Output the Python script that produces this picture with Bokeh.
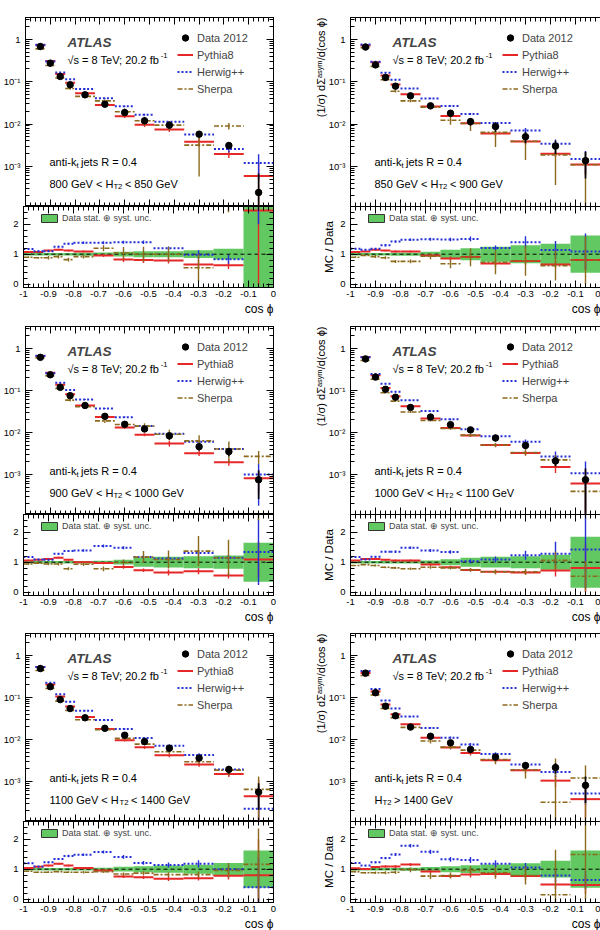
import math
from bokeh.plotting import figure
from bokeh.models import (Range1d, LinearAxis, LogAxis, FixedTicker, CustomJSTickFormatter,
                          Label, Legend, LegendItem, Span, Title)
from bokeh.layouts import column, row
from bokeh.embed import file_html
from bokeh.resources import INLINE

NAN = float("nan")
FONT = "Liberation Sans"

# ---------------- binning / ticks ----------------
BIN_EDGES = [-1.0, -0.96, -0.92, -0.88, -0.84, -0.80, -0.72, -0.64, -0.56, -0.48, -0.36, -0.24, -0.12, 0.0]
X_TICKS = [-1.0, -0.9, -0.8, -0.7, -0.6, -0.5, -0.4, -0.3, -0.2, -0.1, 0.0]
X_MINOR = [round(-1.0 + 0.02 * i, 2) for i in range(51)]
Y_LOG_TICKS = [1e-3, 1e-2, 1e-1, 1.0]
Y_LOG_MINOR = [k * 10.0 ** e for e in range(-4, 1) for k in range(2, 10)]
RATIO_TICKS = [0, 1, 2]
RATIO_MINOR = [round(0.2 * i, 1) for i in range(0, 14)]

# ---------------- data (cos phi bins, 13 bins) ----------------
# Panel 1 : 800 < HT2 < 850 GeV
P1_DATA = [NAN, 0.68, 0.275, 0.133, 0.0845, 0.049, 0.0294, 0.0187, 0.0119, 0.0094, 0.00575, 0.0031, 0.00024]
P1_BAND = [0.04, 0.04, 0.04, 0.04, 0.04, 0.05, 0.06, 0.08, 0.10, 0.10, 0.13, 0.18, 1.8]
P1_PYTHIA = [1.07, 1.07, 1.12, 1.15, 1.12, 1.09, 0.96, 0.82, 0.81, 0.79, 0.66, 0.63, 2.46]
P1_HERWIG = [1.17, 1.10, 1.10, 1.25, 1.35, 1.38, 1.38, 1.40, 1.40, 1.20, 0.98, 0.83, 5.0]
P1_SHERPA = [0.90, 0.88, 0.88, 0.92, 0.82, 0.92, 1.20, 1.04, 1.00, 1.00, 0.55, 2.9, NAN]
P1_PYTHIA_ERR = [0.02, 0.02, 0.03, 0.03, 0.03, 0.03, 0.05, 0.08, 0.10, 0.10, 0.15, 0.12, 2.5]
P1_HERWIG_ERR = [0.02, 0.02, 0.03, 0.03, 0.03, 0.04, 0.05, 0.05, 0.06, 0.06, 0.15, 0.15, 3.0]
P1_SHERPA_ERR = [0.03, 0.03, 0.06, 0.06, 0.06, 0.06, 0.10, 0.20, 0.25, 0.25, 0.45, 0.5, NAN]
P1_HT = ("800 GeV < H", "T2", " < 850 GeV")

# Panel 2 : 850 < HT2 < 900 GeV
P2_DATA = [NAN, 0.66, 0.25, 0.126, 0.0785, 0.0464, 0.0269, 0.018, 0.0114, 0.0087, 0.005, 0.003, 0.00136]
P2_BAND = [0.04, 0.04, 0.04, 0.04, 0.05, 0.05, 0.08, 0.15, 0.20, 0.25, 0.30, 0.35, 0.62]
P2_PYTHIA = [1.07, 1.09, 1.15, 1.12, 1.09, 1.09, 0.96, 0.86, 0.91, 0.69, 0.77, 0.66, 0.81]
P2_HERWIG = [1.18, 1.15, 1.18, 1.30, 1.42, 1.48, 1.50, 1.49, 1.51, 1.21, 1.40, 1.14, 1.09]
P2_SHERPA = [0.90, 0.96, 0.92, 0.88, 0.76, 0.76, 0.93, 0.68, 0.90, 0.73, 0.78, 0.62, 0.80]
P2_PYTHIA_ERR = [0.02, 0.02, 0.03, 0.03, 0.03, 0.03, 0.05, 0.06, 0.08, 0.10, 0.12, 0.10, 0.35]
P2_HERWIG_ERR = [0.02, 0.02, 0.03, 0.04, 0.04, 0.04, 0.05, 0.06, 0.08, 0.08, 0.20, 0.30, 0.60]
P2_SHERPA_ERR = [0.03, 0.03, 0.05, 0.05, 0.05, 0.06, 0.10, 0.15, 0.30, 0.40, 0.50, 0.50, 0.80]
P2_HT = ("850 GeV < H", "T2", " < 900 GeV")

# Panel 3 : 900 < HT2 < 1000 GeV
P3_DATA = [NAN, 0.61, 0.235, 0.118, 0.075, 0.0438, 0.0241, 0.0156, 0.0121, 0.0083, 0.0046, 0.0035, 0.00075]
P3_BAND = [0.04, 0.04, 0.04, 0.04, 0.04, 0.04, 0.05, 0.08, 0.15, 0.18, 0.20, 0.22, 0.65]
P3_PYTHIA = [1.06, 1.08, 1.11, 1.15, 1.08, 1.00, 0.97, 0.84, 0.73, 0.66, 0.70, 0.56, 1.09]
P3_HERWIG = [1.17, 1.09, 1.08, 1.28, 1.37, 1.39, 1.54, 1.48, 1.17, 1.12, 1.31, 1.15, 1.34]
P3_SHERPA = [0.94, 0.97, 0.94, 0.94, 0.78, 0.93, 0.78, 0.99, 1.17, 1.09, 1.37, 1.15, 3.6]
P3_PYTHIA_ERR = [0.02, 0.02, 0.03, 0.03, 0.03, 0.03, 0.04, 0.06, 0.06, 0.10, 0.10, 0.10, 0.60]
P3_HERWIG_ERR = [0.02, 0.02, 0.03, 0.03, 0.03, 0.04, 0.05, 0.05, 0.06, 0.08, 0.10, 0.10, 1.10]
P3_SHERPA_ERR = [0.03, 0.03, 0.04, 0.05, 0.05, 0.06, 0.08, 0.10, 0.20, 0.30, 0.50, 0.60, 1.20]
P3_HT = ("900 GeV < H", "T2", " < 1000 GeV")

# Panel 4 : 1000 < HT2 < 1100 GeV
P4_DATA = [NAN, 0.56, 0.207, 0.106, 0.0687, 0.0393, 0.0232, 0.0153, 0.0115, 0.0074, 0.0049, 0.0021, 0.00075]
P4_BAND = [0.04, 0.04, 0.04, 0.04, 0.04, 0.04, 0.06, 0.10, 0.15, 0.18, 0.20, 0.25, 0.85]
P4_PYTHIA = [1.06, 1.11, 1.11, 1.08, 1.06, 1.06, 0.92, 0.83, 0.74, 0.68, 0.66, 0.72, 0.81]
P4_HERWIG = [1.17, 1.09, 1.18, 1.35, 1.35, 1.48, 1.39, 1.34, 1.03, 1.09, 1.23, 1.28, 1.42]
P4_SHERPA = [0.89, 0.92, 0.89, 0.83, 0.81, 0.78, 0.83, 0.81, 0.75, 0.68, 0.68, 1.06, 0.53]
P4_PYTHIA_ERR = [0.02, 0.02, 0.03, 0.03, 0.03, 0.03, 0.04, 0.05, 0.05, 0.06, 0.08, 0.20, 0.80]
P4_HERWIG_ERR = [0.02, 0.02, 0.03, 0.03, 0.04, 0.04, 0.05, 0.06, 0.07, 0.10, 0.15, 0.40, 1.30]
P4_SHERPA_ERR = [0.02, 0.02, 0.03, 0.03, 0.04, 0.04, 0.05, 0.05, 0.06, 0.08, 0.10, 0.30, 0.50]
P4_HT = ("1000 GeV < H", "T2", " < 1100 GeV")

# Panel 5 : 1100 < HT2 < 1400 GeV
P5_DATA = [NAN, 0.485, 0.18, 0.0885, 0.0543, 0.0327, 0.0184, 0.0126, 0.0089, 0.0062, 0.0036, 0.00194, 0.00056]
P5_BAND = [0.04, 0.04, 0.04, 0.04, 0.04, 0.04, 0.05, 0.08, 0.10, 0.12, 0.15, 0.21, 0.62]
P5_PYTHIA = [1.04, 1.08, 1.12, 1.18, 1.12, 1.04, 0.96, 0.76, 0.73, 0.68, 0.70, 0.78, 0.80]
P5_HERWIG = [1.20, 1.09, 1.23, 1.34, 1.44, 1.48, 1.57, 1.41, 1.21, 1.14, 1.18, 1.00, 0.40]
P5_SHERPA = [0.93, 0.90, 0.90, 0.92, 0.90, 0.90, 0.92, 0.84, 0.87, 0.82, 0.82, 0.96, 1.16]
P5_PYTHIA_ERR = [0.02, 0.02, 0.03, 0.03, 0.03, 0.03, 0.04, 0.05, 0.06, 0.07, 0.08, 0.12, 1.20]
P5_HERWIG_ERR = [0.02, 0.02, 0.03, 0.03, 0.04, 0.04, 0.05, 0.06, 0.06, 0.08, 0.12, 0.10, 1.00]
P5_SHERPA_ERR = [0.02, 0.02, 0.03, 0.03, 0.03, 0.04, 0.05, 0.05, 0.06, 0.08, 0.10, 0.25, 1.20]
P5_HT = ("1100 GeV < H", "T2", " < 1400 GeV")

# Panel 6 : HT2 > 1400 GeV
P6_DATA = [NAN, 0.377, 0.129, 0.0617, 0.0366, 0.0197, 0.0119, 0.0083, 0.0058, 0.0038, 0.0024, 0.00214, 0.00081]
P6_BAND = [0.04, 0.04, 0.04, 0.04, 0.04, 0.05, 0.07, 0.10, 0.13, 0.16, 0.20, 0.28, 0.62]
P6_PYTHIA = [1.03, 1.01, 1.07, 1.09, 1.09, 1.16, 0.92, 0.77, 0.82, 0.84, 0.77, 0.49, 0.47]
P6_HERWIG = [1.21, 1.12, 1.23, 1.37, 1.49, 1.78, 1.58, 1.33, 1.31, 1.18, 1.06, 0.79, 0.64]
P6_SHERPA = [0.92, 0.88, 0.88, 0.88, 0.90, 0.98, 0.77, 0.79, 0.96, 0.88, 0.79, 0.15, 1.49]
P6_PYTHIA_ERR = [0.02, 0.02, 0.03, 0.04, 0.05, 0.05, 0.05, 0.06, 0.10, 0.10, 0.12, 0.15, 0.30]
P6_HERWIG_ERR = [0.02, 0.02, 0.03, 0.04, 0.05, 0.06, 0.07, 0.08, 0.10, 0.12, 0.15, 0.20, 0.30]
P6_SHERPA_ERR = [0.03, 0.03, 0.04, 0.05, 0.06, 0.08, 0.10, 0.10, 0.15, 0.20, 0.30, 1.50, 1.50]
P6_HT = ("H", "T2", " > 1400 GeV")

# ---------------- style ----------------
PY_COLOR = "#e62828"
HW_COLOR = "#2430d6"
SH_COLOR = "#8c6a1c"
GREEN = "#62c862"

TOP_H = [204, 194, 193]
TOP_BT = [15, 6, 5]
RAT_H = [114, 114, 109]
RAT_BB = [33, 33, 28]
RAT_FRAME = 81

# Arial / Liberation Sans advance widths (1/1000 em)
W = {' ': 278, '.': 278, ';': 278, '<': 584, '>': 584, '=': 584, '-': 333, 'G': 778, 'H': 722,
     'T': 611, 'V': 667, 'a': 556, 'b': 556, 'e': 556, 'f': 278, 'i': 222, 'k': 500, 'n': 556,
     's': 500, 't': 278, '\u221a': 549}


def text_width(s, size):
    return sum(W.get(c, 556) for c in s) * size / 1000.0


def rich(p, x, y, parts, size):
    for txt, kind in parts:
        fs = size if kind == "n" else size * 0.7
        dy = 0.0 if kind == "n" else (-0.28 * size if kind == "sub" else 0.42 * size)
        p.add_layout(Label(x=x, y=y + dy, x_units="screen", y_units="screen", text=txt,
                           text_font=FONT, text_font_size=f"{fs:.1f}px", text_color="black",
                           text_baseline="alphabetic", text_align="left"))
        x += text_width(txt, fs) + (0.0 if kind == "n" else 2.5)


BLANK = CustomJSTickFormatter(code="return '';")
X_FMT = CustomJSTickFormatter(code="""
const v = Math.round(tick * 10) / 10;
if (Math.abs(v) < 1e-9) return '0';
if (Math.abs(v + 1) < 1e-9) return '-1';
return v.toFixed(1);
""")
LOG_FMT = CustomJSTickFormatter(code="""
const e = Math.round(Math.log10(tick));
if (e === 0) return '1';
const sup = {'-': '\\u207b', '0': '\\u2070', '1': '\\u00b9', '2': '\\u00b2', '3': '\\u00b3', '4': '\\u2074'};
return '10' + String(e).split('').map(c => sup[c]).join('');
""")


def style_axis(ax, labels, standoff=5, size="9.5px"):
    ax.axis_line_color = "black"
    ax.axis_line_width = 1
    ax.major_tick_line_color = "black"
    ax.minor_tick_line_color = "black"
    ax.major_tick_in = 7
    ax.major_tick_out = 0
    ax.minor_tick_in = 4
    ax.minor_tick_out = 0
    if labels:
        ax.major_label_text_font = FONT
        ax.major_label_text_font_size = size
        ax.major_label_text_color = "black"
        ax.major_label_standoff = standoff
    else:
        ax.formatter = BLANK
        ax.major_label_text_font_size = "1px"
        ax.major_label_standoff = 0


def side_title(text, align, size, standoff=0):
    return Title(text=text, align=align, text_font=FONT, text_font_size=size,
                 text_font_style="normal", text_color="black", standoff=standoff)


CENTERS = [(a + b) / 2 for a, b in zip(BIN_EDGES[:-1], BIN_EDGES[1:])]


def mc_list(py, hw, sh, pye, hwe, she):
    return [("Pythia8", py, pye, PY_COLOR, "solid", 2.0),
            ("Herwig++", hw, hwe, HW_COLOR, "2 2", 2.0),
            ("Sherpa", sh, she, SH_COLOR, "5 2 2 2", 1.6)]


def top_figure(side, r, data, band, mcs, ht):
    left = side == 0
    F = TOP_H[r] - TOP_BT[r]
    p = figure(width=300, height=TOP_H[r], x_range=Range1d(-1, 0), y_range=Range1d(1.12e-4, 3.3),
               y_axis_type="log", output_backend="svg", toolbar_location=None,
               min_border_left=23 if left else 50, min_border_right=27 if left else 0,
               min_border_top=TOP_BT[r], min_border_bottom=0)
    p.grid.visible = False
    p.outline_line_color = "black" if left else None
    xt = FixedTicker(ticks=X_TICKS, minor_ticks=X_MINOR)
    yt = FixedTicker(ticks=Y_LOG_TICKS, minor_ticks=Y_LOG_MINOR)
    p.xaxis.ticker = xt
    style_axis(p.xaxis[0], False)
    p.yaxis.ticker = yt
    p.yaxis.formatter = LOG_FMT
    style_axis(p.yaxis[0], True)
    ax_top = LinearAxis(ticker=xt)
    style_axis(ax_top, False)
    p.add_layout(ax_top, "above")
    if left:
        ax_r = LogAxis(ticker=yt)
        style_axis(ax_r, False)
        p.add_layout(ax_r, "right")
    else:
        p.add_layout(side_title("(1/\u03c3) d\u03a3\u1d43\u02e2\u02b8\u1d50/d(cos \u03d5)",
                                "right", "11px", -3), "left")

    items = []
    for name, rat, err, col, dash, lw in mcs:
        vals = [q * d for q, d in zip(rat, data)]
        lo = [(q - e) * d for q, e, d in zip(rat, err, data)]
        lo = [v if v > 1e-6 else 1e-6 for v in lo]
        hi = [(q + e) * d for q, e, d in zip(rat, err, data)]
        rr = p.segment(x0=BIN_EDGES[:-1], x1=BIN_EDGES[1:], y0=vals, y1=vals,
                       line_color=col, line_dash=dash, line_width=lw)
        p.segment(x0=CENTERS, x1=CENTERS, y0=lo, y1=hi, line_color=col, line_width=1.4)
        items.append(LegendItem(label=name, renderers=[rr]))
    dlo = [d * (1 - b) for d, b in zip(data, band)]
    dlo = [v if v > 1e-6 else 1e-6 for v in dlo]
    dhi = [d * (1 + b) for d, b in zip(data, band)]
    p.segment(x0=CENTERS, x1=CENTERS, y0=dlo, y1=dhi, line_color="black", line_width=1.6)
    dr = p.scatter(x=CENTERS, y=data, size=6.5, marker="circle", fill_color="black", line_color="black")
    items.insert(0, LegendItem(label="Data 2012", renderers=[dr]))

    leg = Legend(items=items, location=(152, F - 80), border_line_color=None,
                 background_fill_alpha=0, label_text_font=FONT, label_text_font_size="11px",
                 glyph_width=16, glyph_height=17, label_height=17, spacing=0, padding=0,
                 margin=0, label_standoff=4)
    p.add_layout(leg)

    p.add_layout(Label(x=42, y=F - 24.7, x_units="screen", y_units="screen", text="ATLAS",
                       text_font=FONT, text_font_style="bold italic", text_font_size="13.5px",
                       text_baseline="alphabetic"))
    rich(p, 42, F - 42.3, [("\u221as = 8 TeV; 20.2 fb", "n"), ("-1", "sup")], 11)
    rich(p, 24, F - 144.7, [("anti-k", "n"), ("t", "sub"), (" jets R = 0.4", "n")], 11)
    rich(p, 24, F - 166.3, [(ht[0], "n"), (ht[1], "sub"), (ht[2], "n")], 11)
    return p


def ratio_figure(side, r, band, mcs):
    left = side == 0
    p = figure(width=300, height=RAT_H[r], x_range=Range1d(-1, 0), y_range=Range1d(-0.11, 2.59),
               output_backend="svg", toolbar_location=None,
               min_border_left=23 if left else 50, min_border_right=27 if left else 0,
               min_border_top=0, min_border_bottom=RAT_BB[r])
    p.grid.visible = False
    p.outline_line_color = "black" if left else None
    xt = FixedTicker(ticks=X_TICKS, minor_ticks=X_MINOR)
    yt = FixedTicker(ticks=RATIO_TICKS, minor_ticks=RATIO_MINOR)
    p.xaxis.ticker = xt
    p.xaxis.formatter = X_FMT
    style_axis(p.xaxis[0], True, standoff=3)
    p.yaxis.ticker = yt
    style_axis(p.yaxis[0], True)
    ax_top = LinearAxis(ticker=xt)
    style_axis(ax_top, False)
    p.add_layout(ax_top, "above")
    if left:
        ax_r = LinearAxis(ticker=yt)
        style_axis(ax_r, False)
        p.add_layout(ax_r, "right")
    else:
        p.add_layout(side_title("MC / Data", "center", "11.5px", 6), "left")
    p.add_layout(side_title("cos \u03d5", "right", "12px", 0), "below")

    p.quad(left=BIN_EDGES[:-1], right=BIN_EDGES[1:], bottom=[1 - b for b in band],
           top=[1 + b for b in band], fill_color=GREEN, line_color=None, level="underlay")
    p.add_layout(Span(location=1, dimension="width", line_color="black", line_dash="4 3",
                      line_width=1, level="underlay"))
    for name, rat, err, col, dash, lw in mcs:
        p.segment(x0=BIN_EDGES[:-1], x1=BIN_EDGES[1:], y0=rat, y1=rat,
                  line_color=col, line_dash=dash, line_width=lw)
        p.segment(x0=CENTERS, x1=CENTERS, y0=[q - e for q, e in zip(rat, err)],
                  y1=[q + e for q, e in zip(rat, err)], line_color=col, line_width=1.4)
    # legend-only swatch (no visible data)
    box = p.quad(left=[NAN], right=[NAN], bottom=[NAN], top=[NAN], fill_color=GREEN,
                 line_color="#333333", line_width=1)
    leg = Legend(items=[LegendItem(label="Data stat. \u2295 syst. unc.", renderers=[box])],
                 location=(16, RAT_FRAME - 16.5), border_line_color=None, background_fill_alpha=0,
                 label_text_font=FONT, label_text_font_size="9px", glyph_width=20, glyph_height=10,
                 label_height=10, spacing=0, padding=0, margin=0, label_standoff=3)
    p.add_layout(leg)
    return p


PANELS = [
    (P1_DATA, P1_BAND, mc_list(P1_PYTHIA, P1_HERWIG, P1_SHERPA, P1_PYTHIA_ERR, P1_HERWIG_ERR, P1_SHERPA_ERR), P1_HT),
    (P2_DATA, P2_BAND, mc_list(P2_PYTHIA, P2_HERWIG, P2_SHERPA, P2_PYTHIA_ERR, P2_HERWIG_ERR, P2_SHERPA_ERR), P2_HT),
    (P3_DATA, P3_BAND, mc_list(P3_PYTHIA, P3_HERWIG, P3_SHERPA, P3_PYTHIA_ERR, P3_HERWIG_ERR, P3_SHERPA_ERR), P3_HT),
    (P4_DATA, P4_BAND, mc_list(P4_PYTHIA, P4_HERWIG, P4_SHERPA, P4_PYTHIA_ERR, P4_HERWIG_ERR, P4_SHERPA_ERR), P4_HT),
    (P5_DATA, P5_BAND, mc_list(P5_PYTHIA, P5_HERWIG, P5_SHERPA, P5_PYTHIA_ERR, P5_HERWIG_ERR, P5_SHERPA_ERR), P5_HT),
    (P6_DATA, P6_BAND, mc_list(P6_PYTHIA, P6_HERWIG, P6_SHERPA, P6_PYTHIA_ERR, P6_HERWIG_ERR, P6_SHERPA_ERR), P6_HT),
]

# thin dark rule across the top of the page
rule = figure(width=600, height=2, output_backend="svg", toolbar_location=None,
              x_axis_location=None, y_axis_location=None, min_border=0,
              background_fill_color="#505050", border_fill_color="#505050",
              outline_line_color=None)
rule.grid.visible = False

rows = [rule]
for r in range(3):
    tops, rats = [], []
    for side in range(2):
        data, band, mcs, ht = PANELS[2 * r + side]
        tops.append(top_figure(side, r, data, band, mcs, ht))
        rats.append(ratio_figure(side, r, band, mcs))
    rows.append(row(*tops, spacing=0))
    rows.append(row(*rats, spacing=0))

layout = column(*rows, spacing=0)

with open("out.html", "w") as f:
    f.write(file_html(layout, INLINE))
